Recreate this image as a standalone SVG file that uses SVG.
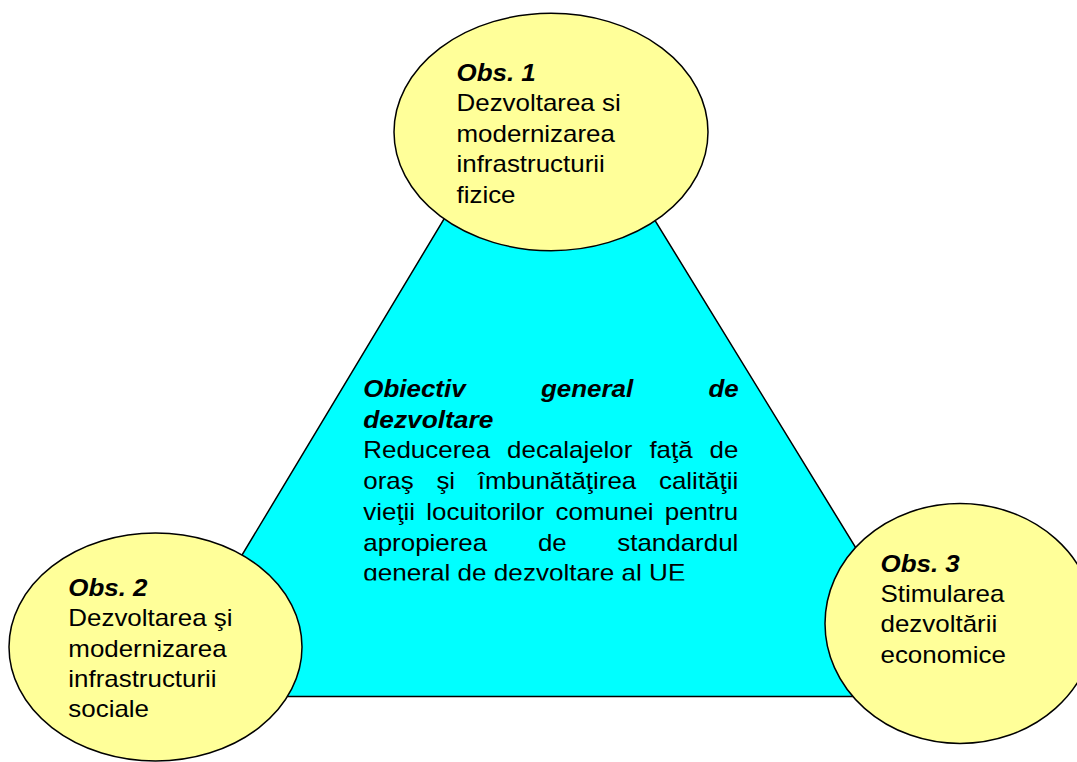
<svg xmlns="http://www.w3.org/2000/svg" width="1077" height="762" viewBox="0 0 1077 762">
<style>
  .ell { fill: #FFFF99; stroke: #000; stroke-width: 1.5; }
  .tri { fill: #00FFFF; stroke: #000; stroke-width: 1.5; }
  text { font-family: "Liberation Sans", Arial, sans-serif; font-size: 24px; fill: #000; }
  .bi { font-weight: bold; font-style: italic; }
</style>
<defs>
  <clipPath id="lastline"><rect x="300" y="550" width="500" height="30.5"/></clipPath>
</defs>
<rect x="0" y="0" width="1077" height="762" fill="#FFFFFF"/>
<g id="objective">
  <polygon class="tri" points="548,46 157,696.5 947,696.5"/>
  <text class="bi" x="363.3" y="397" textLength="102.3" lengthAdjust="spacingAndGlyphs">Obiectiv</text>
  <text class="bi" x="540.9" y="397" textLength="92.2" lengthAdjust="spacingAndGlyphs">general</text>
  <text class="bi" x="708.4" y="397" textLength="30.2" lengthAdjust="spacingAndGlyphs">de</text>
  <text class="bi" x="363.3" y="427.7" textLength="130" lengthAdjust="spacingAndGlyphs">dezvoltare</text>
  <text x="363.3" y="458.4" textLength="126.8" lengthAdjust="spacingAndGlyphs">Reducerea</text>
  <text x="507.1" y="458.4" textLength="125.3" lengthAdjust="spacingAndGlyphs">decalajelor</text>
  <text x="649.4" y="458.4" textLength="43.2" lengthAdjust="spacingAndGlyphs">faţă</text>
  <text x="709.6" y="458.4" textLength="28.8" lengthAdjust="spacingAndGlyphs">de</text>
  <text x="363.3" y="489" textLength="50.4" lengthAdjust="spacingAndGlyphs">oraş</text>
  <text x="436.4" y="489" textLength="18.7" lengthAdjust="spacingAndGlyphs">şi</text>
  <text x="477.8" y="489" textLength="158.5" lengthAdjust="spacingAndGlyphs">îmbunătăţirea</text>
  <text x="659" y="489" textLength="79.2" lengthAdjust="spacingAndGlyphs">calităţii</text>
  <text x="363.3" y="519.8" textLength="51.8" lengthAdjust="spacingAndGlyphs">vieţii</text>
  <text x="426.3" y="519.8" textLength="118.1" lengthAdjust="spacingAndGlyphs">locuitorilor</text>
  <text x="555.6" y="519.8" textLength="98" lengthAdjust="spacingAndGlyphs">comunei</text>
  <text x="664.8" y="519.8" textLength="73.5" lengthAdjust="spacingAndGlyphs">pentru</text>
  <text x="363.3" y="550.5" textLength="123.9" lengthAdjust="spacingAndGlyphs">apropierea</text>
  <text x="537.9" y="550.5" textLength="28.8" lengthAdjust="spacingAndGlyphs">de</text>
  <text x="617.3" y="550.5" textLength="121" lengthAdjust="spacingAndGlyphs">standardul</text>
  <text x="363.3" y="581.2" textLength="322" lengthAdjust="spacingAndGlyphs" clip-path="url(#lastline)">general de dezvoltare al UE</text>
</g>
<g id="connectors"></g>
<g id="obs1">
  <ellipse class="ell" cx="551" cy="132" rx="157" ry="118.7"/>
  <text class="bi" x="456.5" y="80.5" textLength="79.2" lengthAdjust="spacingAndGlyphs">Obs. 1</text>
  <text x="456.5" y="111" textLength="164.2" lengthAdjust="spacingAndGlyphs">Dezvoltarea si</text>
  <text x="456.5" y="141.5" textLength="158.4" lengthAdjust="spacingAndGlyphs">modernizarea</text>
  <text x="456.5" y="172" textLength="148.3" lengthAdjust="spacingAndGlyphs">infrastructurii</text>
  <text x="456.5" y="202.5" textLength="59" lengthAdjust="spacingAndGlyphs">fizice</text>
</g>
<g id="obs2">
  <ellipse class="ell" cx="155.5" cy="647" rx="146.5" ry="114"/>
  <text class="bi" x="68.3" y="596" textLength="79.2" lengthAdjust="spacingAndGlyphs">Obs. 2</text>
  <text x="68.3" y="626.3" textLength="164.2" lengthAdjust="spacingAndGlyphs">Dezvoltarea şi</text>
  <text x="68.3" y="656.6" textLength="158.4" lengthAdjust="spacingAndGlyphs">modernizarea</text>
  <text x="68.3" y="686.9" textLength="148.3" lengthAdjust="spacingAndGlyphs">infrastructurii</text>
  <text x="68.3" y="717.2" textLength="80.7" lengthAdjust="spacingAndGlyphs">sociale</text>
</g>
<g id="obs3">
  <ellipse class="ell" cx="960" cy="623.5" rx="135" ry="120"/>
  <text class="bi" x="880.5" y="571.7" textLength="79.2" lengthAdjust="spacingAndGlyphs">Obs. 3</text>
  <text x="880.5" y="602" textLength="123.9" lengthAdjust="spacingAndGlyphs">Stimularea</text>
  <text x="880.5" y="632.3" textLength="116.7" lengthAdjust="spacingAndGlyphs">dezvoltării</text>
  <text x="880.5" y="662.6" textLength="125.3" lengthAdjust="spacingAndGlyphs">economice</text>
</g>
</svg>
